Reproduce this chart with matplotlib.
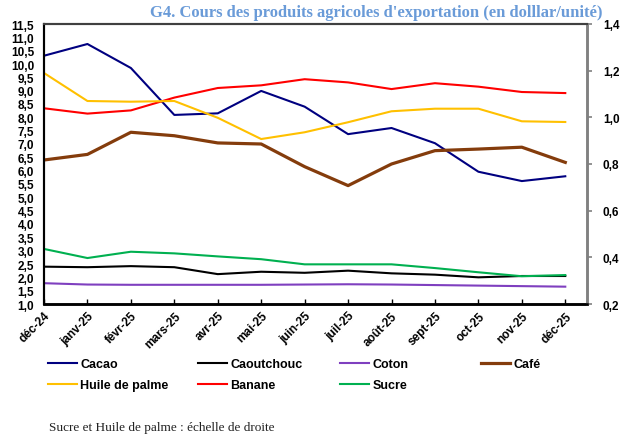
import matplotlib
matplotlib.use("Agg")
import matplotlib.pyplot as plt
from matplotlib.ticker import FixedLocator, FuncFormatter
import numpy as np

months = ["déc-24", "janv-25", "févr-25", "mars-25", "avr-25", "mai-25", "juin-25",
          "juil-25", "août-25", "sept-25", "oct-25", "nov-25", "déc-25"]

# left axis series
cacao = [10.31, 10.75, 9.85, 8.09, 8.15, 8.99, 8.40, 7.37, 7.60, 7.03, 5.96, 5.61, 5.79]
caoutchouc = [2.40, 2.38, 2.42, 2.38, 2.12, 2.21, 2.17, 2.25, 2.15, 2.10, 2.00, 2.05, 2.05]
coton = [1.78, 1.73, 1.72, 1.72, 1.72, 1.72, 1.73, 1.74, 1.73, 1.71, 1.69, 1.67, 1.65]
cafe = [6.40, 6.61, 7.44, 7.31, 7.04, 7.00, 6.15, 5.44, 6.25, 6.75, 6.81, 6.88, 6.31]
banane = [8.34, 8.14, 8.26, 8.74, 9.10, 9.20, 9.43, 9.31, 9.06, 9.28, 9.15, 8.95, 8.91]
# right axis series
huile_palme = [1.190, 1.070, 1.067, 1.070, 0.998, 0.907, 0.936, 0.979, 1.026, 1.037, 1.037, 0.983, 0.980]
sucre = [0.436, 0.397, 0.424, 0.417, 0.404, 0.392, 0.370, 0.370, 0.370, 0.354, 0.336, 0.319, 0.324]

title = "G4. Cours des produits agricoles d'exportation (en dolllar/unité)"
note = "Sucre et Huile de palme : échelle de droite"

SANS = ["Liberation Sans", "DejaVu Sans"]
SERIF = ["Liberation Serif", "DejaVu Serif"]

fig = plt.figure(figsize=(6.21, 4.35), dpi=100)
ax = fig.add_axes([44/621, 1-305/435, (587-44)/621, (305-25)/435])
ax2 = ax.twinx()

x = np.arange(len(months))
c_cacao, c_caout, c_coton, c_cafe = "#000080", "#000000", "#7F3FBF", "#843C0C"
c_huile, c_ban, c_sucre = "#FFC000", "#FF0000", "#00B050"

l_cacao, = ax.plot(x, cacao, color=c_cacao, lw=1.5, label="Cacao")
l_caout, = ax.plot(x, caoutchouc, color=c_caout, lw=1.5, label="Caoutchouc")
l_coton, = ax.plot(x, coton, color=c_coton, lw=1.5, label="Coton")
l_cafe, = ax.plot(x, cafe, color=c_cafe, lw=2.3, label="Café")
l_ban, = ax.plot(x, banane, color=c_ban, lw=1.5, label="Banane")
l_huile, = ax2.plot(x, huile_palme, color=c_huile, lw=1.5, label="Huile de palme")
l_sucre, = ax2.plot(x, sucre, color=c_sucre, lw=1.5, label="Sucre")

ax.set_xlim(0, 12.5)
ax.set_ylim(1.0, 11.5)
ax2.set_ylim(0.2, 1.4)

comma = FuncFormatter(lambda v, p: f"{v:.1f}".replace(".", ","))
ax.yaxis.set_major_locator(FixedLocator(np.arange(1.0, 11.51, 0.5)))
ax.yaxis.set_major_formatter(comma)
ax2.yaxis.set_major_locator(FixedLocator(np.arange(0.2, 1.41, 0.2)))
ax2.yaxis.set_major_formatter(comma)

ax.set_xticks(x)
ax.set_xticklabels(months, rotation=45, ha="right", rotation_mode="anchor")

for lab in ax.get_xticklabels() + ax.get_yticklabels() + ax2.get_yticklabels():
    lab.set_fontfamily(SANS)
    lab.set_fontweight("bold")
    lab.set_fontsize(8.5)

ax.tick_params(axis="x", direction="in", length=3.5, width=1, pad=4)
ax.tick_params(axis="y", direction="out", length=0, pad=7)
ax2.tick_params(axis="y", direction="out", length=3.5, width=1.2, color="#808080", pad=8)

for a in (ax, ax2):
    a.spines["left"].set_color("black")
    a.spines["left"].set_linewidth(1.5)
    a.spines["bottom"].set_color("black")
    a.spines["bottom"].set_linewidth(1.8)
    a.spines["top"].set_color("#404040")
    a.spines["top"].set_linewidth(1.5)
    a.spines["right"].set_color("#808080")
    a.spines["right"].set_linewidth(1.8)

fig.text(376/621, 1-13/435, title, ha="center", va="center", fontsize=12,
         fontweight="bold", color="#6A9BD8", family=SERIF)
fig.text(49/621, 1-428/435, note, ha="left", va="center", fontsize=9.5,
         color="#222222", family=SERIF)

# legend: four columns placed like the reference
cols = [([l_cacao, l_huile], 48), ([l_caout, l_ban], 198), ([l_coton, l_sucre], 340), ([l_cafe], 481)]
for handles, xpx in cols:
    fig.legend(handles=handles, labels=[h.get_label() for h in handles],
               loc="upper left", bbox_to_anchor=(xpx/621, 1-359/435),
               frameon=False, borderpad=0, borderaxespad=0, handlelength=2.3,
               handletextpad=0.3, labelspacing=0.75,
               prop={"family": SANS, "weight": "bold", "size": 9})

fig.savefig("out.png", dpi=100)
